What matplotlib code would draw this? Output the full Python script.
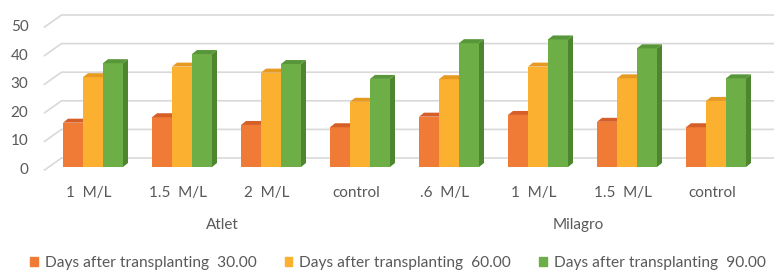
import matplotlib
matplotlib.use("Agg")
import matplotlib.pyplot as plt
from matplotlib.patches import Polygon, Patch
import numpy as np

# =========================
# DATA
# =========================
categories = ["1  M/L", "1.5  M/L", "2  M/L", "control",
              ".6  M/L", "1  M/L", "1.5  M/L", "control"]
groups = ["Atlet", "Milagro"]
series = ["Days after transplanting  30.00",
          "Days after transplanting  60.00",
          "Days after transplanting  90.00"]
d30 = [15.5, 17.4, 14.7, 13.9, 17.6, 18.2, 15.8, 13.9]
d60 = [31.4, 35.1, 33.0, 22.8, 30.7, 35.1, 31.0, 23.1]
d90 = [36.3, 39.5, 36.0, 30.8, 43.3, 44.6, 41.5, 31.0]
yticks = [0, 10, 20, 30, 40, 50]

front = ["#EF7B36", "#FBB12F", "#6EAE46"]
side = ["#C2591F", "#D38E1A", "#4D862E"]
top = ["#D65F28", "#E69A22", "#58963A"]
grey = "#595959"

# =========================
# FIGURE (front plane in data coords)
# =========================
W, H = 774, 270
fig = plt.figure(figsize=(W / 100, H / 100), dpi=100)
ax = fig.add_axes([44.5 / W, 100 / H, 712 / W, 143 / H])
ax.set_xlim(-0.5, 7.5)
ax.set_ylim(0, 50)
ax.axis("off")

# pixel -> data conversion
px = 8 / 712
py = 50 / 143

# back wall gridlines + slanted left edge
wx, wy = 17 * px, 12 * py
for v in yticks:
    ax.plot([-0.5, -0.5 + wx, 7.5 + wx], [v, v + wy, v + wy],
            color="#D9D9D9", lw=1.2, clip_on=False, zorder=1)
    ax.text(-0.5 - 16 * px, v, str(v), ha="right", va="center",
            fontsize=11, color=grey, family="Lato")

# bars (front face + side + top), sitting a little behind the front plane
bw = 20 * px
bx, by = 4 * px, 3 * py
dx, dy = 5 * px, 4 * py
x = np.arange(len(categories))
for s, vals in enumerate([d30, d60, d90]):
    xs = x + (s - 1) * bw + bx
    ax.bar(xs, vals, width=bw, bottom=by, color=front[s],
           clip_on=False, zorder=2 + s)
    for xc, h in zip(xs, vals):
        x0, x1 = xc - bw / 2, xc + bw / 2
        t = by + h
        ax.add_patch(Polygon([(x1, by), (x1, t), (x1 + dx, t + dy), (x1 + dx, by + dy)],
                             closed=True, color=side[s], lw=0, clip_on=False, zorder=2 + s))
        ax.add_patch(Polygon([(x0, t), (x1, t), (x1 + dx, t + dy), (x0 + dx, t + dy)],
                             closed=True, color=top[s], lw=0, clip_on=False, zorder=2 + s))

# category and group labels
for i, c in enumerate(categories):
    ax.text(i, -23 * py, c, ha="center", va="center", fontsize=11,
            color=grey, family="Lato")
for g, name in enumerate(groups):
    ax.text(g * 4 + 1.5, -55 * py, name, ha="center", va="center",
            fontsize=11, color=grey, family="Lato")

handles = [Patch(color=front[s], label=series[s]) for s in range(3)]
leg = fig.legend(handles=handles, loc="center", bbox_to_anchor=(398 / W, 7 / H),
                 ncol=3, frameon=False, handlelength=0.5, handleheight=0.5,
                 handletextpad=0.45, columnspacing=1.8, borderpad=0,
                 prop={"family": "Lato", "size": 11.2})
for t in leg.get_texts():
    t.set_color(grey)

fig.savefig("out.png", dpi=100)
